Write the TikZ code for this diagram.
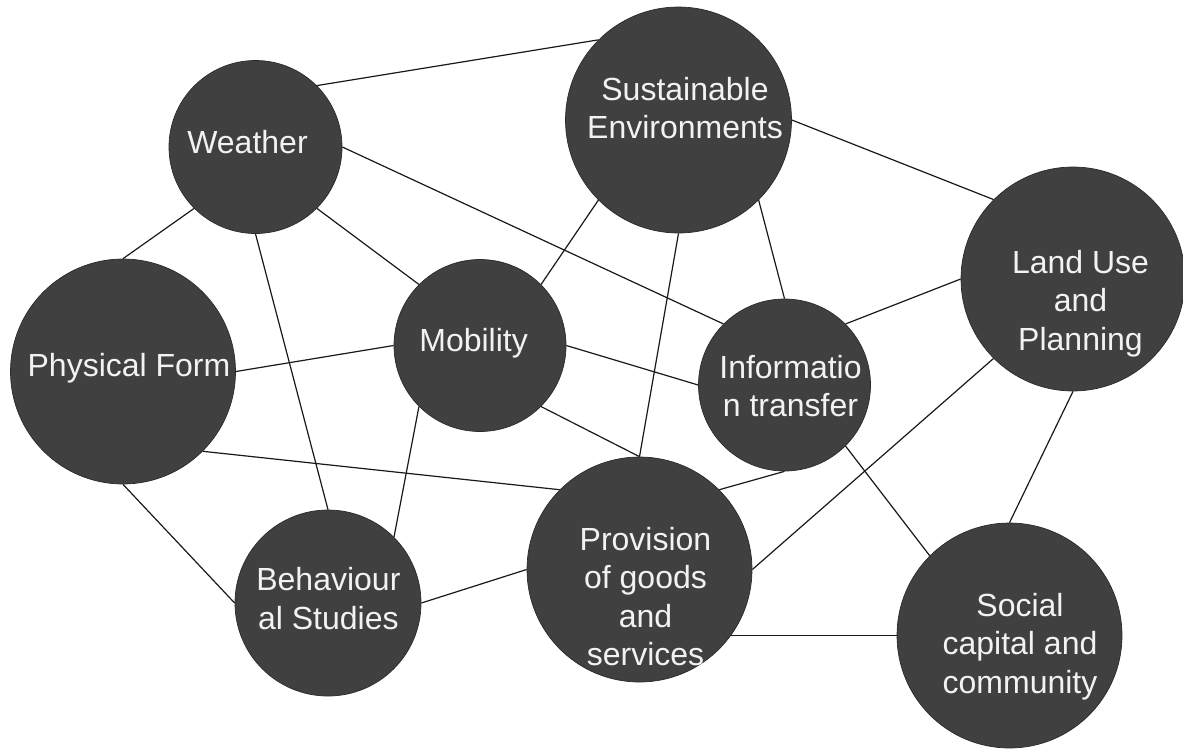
\documentclass[tikz,border=0pt]{standalone}
\usepackage{fontspec}
\setmainfont{Liberation Sans}
\usetikzlibrary{backgrounds}
\definecolor{bubfill}{HTML}{404040}
\definecolor{bubline}{HTML}{2A2A2A}
\definecolor{txtcol}{HTML}{F2F2F2}
\begin{document}
\begin{tikzpicture}[x=1pt,y=-1pt,
  bub/.style={circle, fill=bubfill, draw=bubline, line width=0.7pt, inner sep=0pt, minimum size=#1},
  lbl/.style={text=txtcol, align=center, anchor=north, inner sep=0pt, font=\fontsize{32}{38.5}\selectfont},
  link/.style={draw=black!90, line width=1.2pt}]
\useasboundingbox (0,0) rectangle (1183,748);

% bubbles
\node[bub=173pt] (w) at (255.5,147) {};
\node[bub=226pt] (s) at (678.5,120) {};
\node[bub=224pt] (l) at (1073,279) {};
\node[bub=225pt] (p) at (123,371.5) {};
\node[bub=172pt] (m) at (480,345.5) {};
\node[bub=172pt] (i) at (784.5,385) {};
\node[bub=186pt] (b) at (328,603) {};
\node[bub=225pt] (v) at (639.5,569.5) {};
\node[bub=225pt] (c) at (1009.5,635.5) {};

% labels
\node[lbl] (wt) at (247.5,129.3) {\rule{0pt}{24pt}Weather};
\node[lbl] (st) at (685,76) {\rule{0pt}{24pt}Sustainable\\Environments};
\node[lbl] (lt) at (1080.5,249) {\rule{0pt}{24pt}Land Use\\and\\Planning};
\node[lbl] (pt) at (129,352.7) {\rule{0pt}{24pt}Physical Form};
\node[lbl] (mt) at (473.6,327.5) {\rule{0pt}{24pt}Mobility};
\node[lbl] (it) at (790.5,354) {\rule{0pt}{24pt}Informatio\\n transfer};
\node[lbl] (bt) at (328.4,566.5) {\rule{0pt}{24pt}Behaviour\\al Studies};
\node[lbl] (vt) at (645.5,526) {\rule{0pt}{24pt}Provision\\of goods\\and\\services};
\node[lbl] (ct) at (1020,592) {\rule{0pt}{24pt}Social\\capital and\\community};

\begin{scope}[on background layer]
\fill[white] (0,0) rectangle (1183,748);
\draw[link] (w.north east) -- (s.north west);
\draw[link] (w.east) -- (i.north west);
\draw[link] (w.south west) -- (p.north);
\draw[link] (w.south east) -- (m.north west);
\draw[link] (w.south) -- (b.north);
\draw[link] (p.east) -- (m.west);
\draw[link] (m.north east) -- (s.south west);
\draw[link] (m.east) -- (i.west);
\draw[link] (s.east) -- (l.north west);
\draw[link] (s.south east) -- (i.north);
\draw[link] (s.south) -- (v.north);
\draw[link] (i.north east) -- (l.west);
\draw[link] (l.south west) -- (v.east);
\draw[link] (l.south) -- (c.north);
\draw[link] (i.south) -- (v.north east);
\draw[link] (i.south east) -- (c.north west);
\draw[link] (c.west) -- (c.west -| v.center);
\draw[link] (m.south east) -- (v.north);
\draw[link] (m.south west) -- (b.north east);
\draw[link] (p.south east) -- (v.north west);
\draw[link] (p.south) -- (b.west);
\draw[link] (b.east) -- (v.west);
\end{scope}
\end{tikzpicture}
\end{document}
